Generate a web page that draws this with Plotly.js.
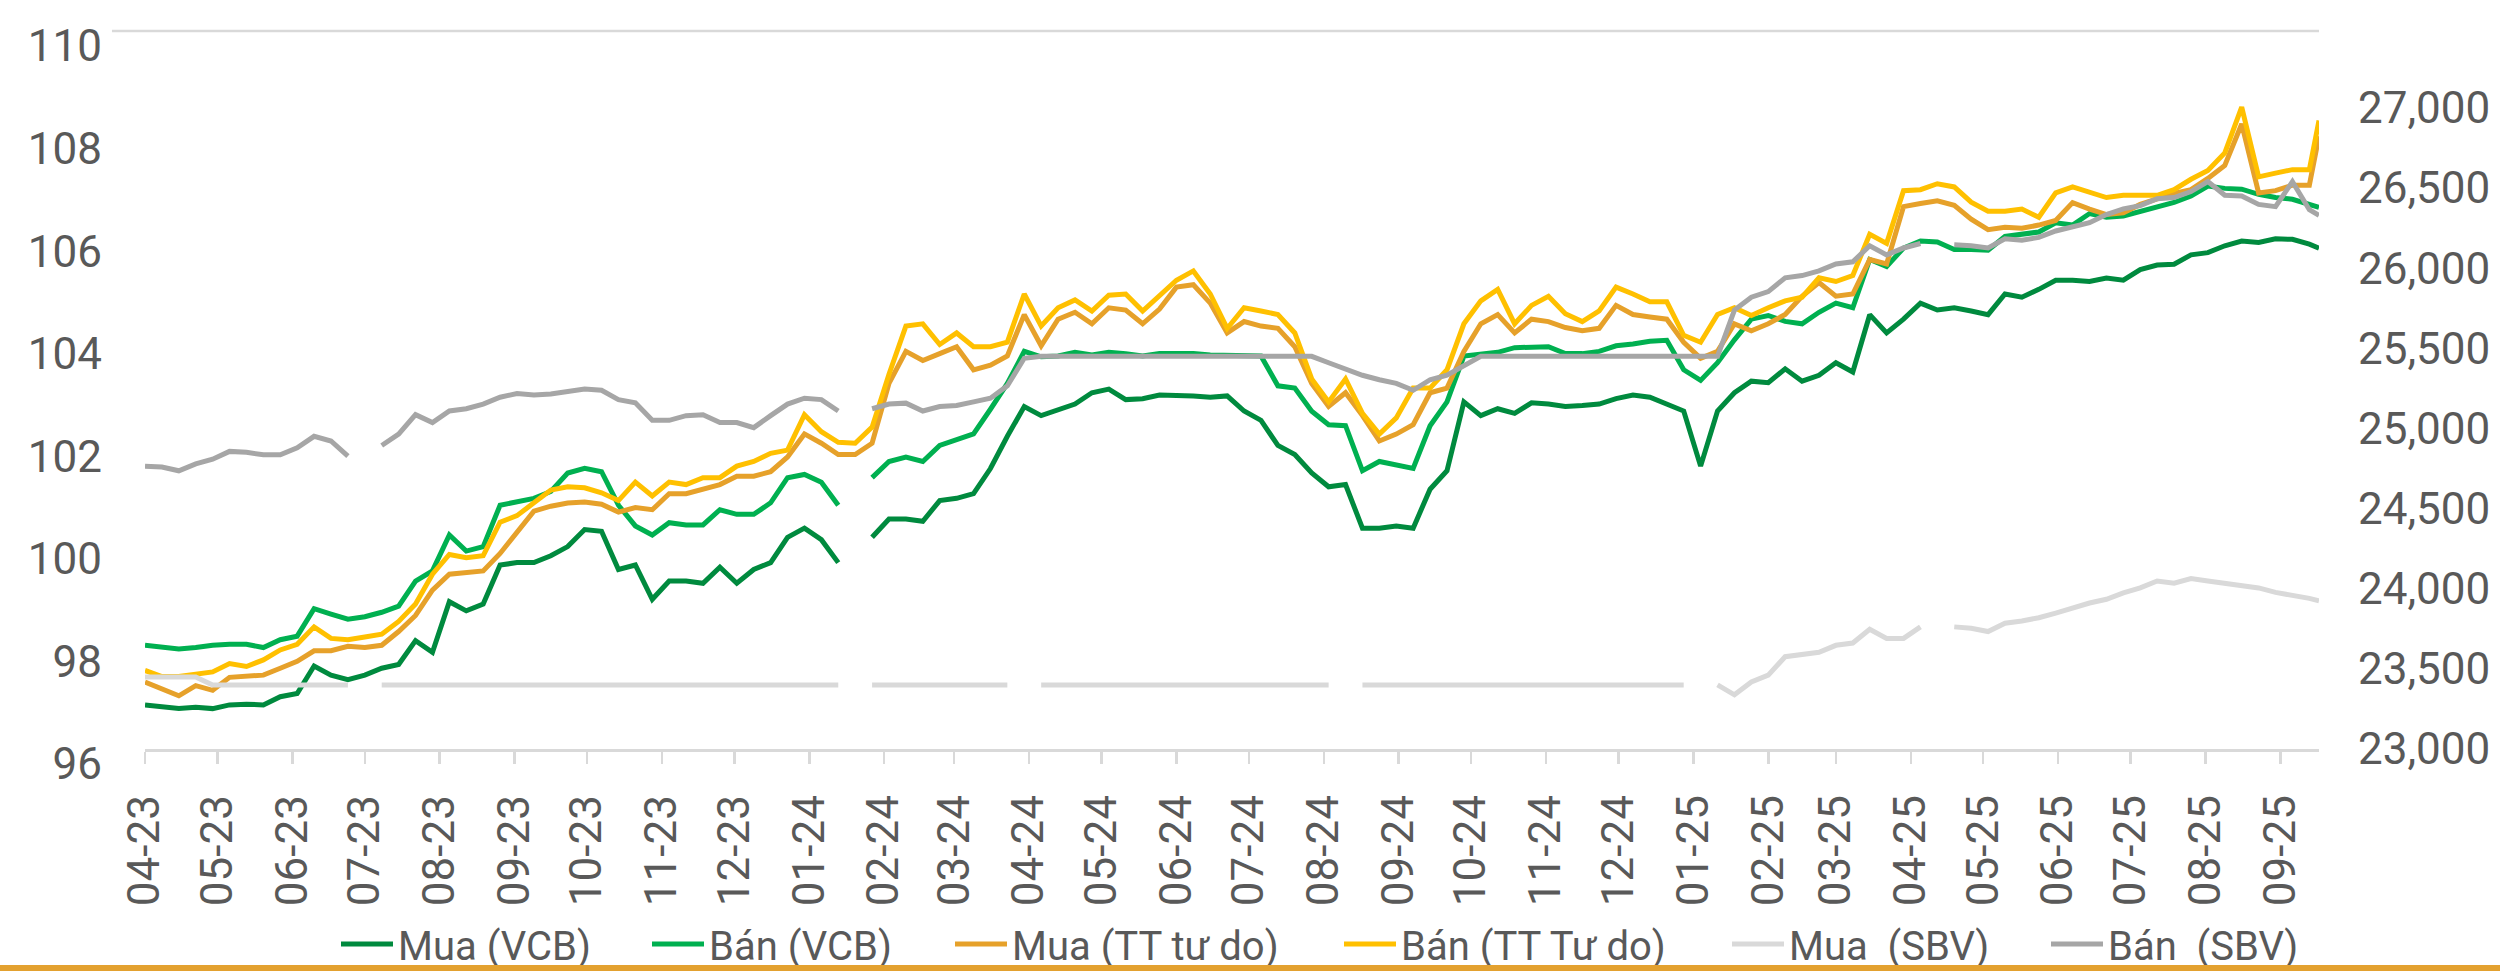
<!DOCTYPE html>
<html><head><meta charset="utf-8">
<script src="https://cdn.plot.ly/plotly-3.0.1.min.js"></script>
<style>
html,body{margin:0;padding:0;background:#fff;overflow:hidden}
#chart{width:2500px;height:971px}
#bar{position:absolute;left:0;top:965px;width:2500px;height:6px;background:#E3A12F;z-index:10}
</style>
</head><body><div id="chart"></div><div id="bar"></div>
<script>
const dates = ["2023-04-03","2023-04-10","2023-04-17","2023-04-24","2023-05-01","2023-05-08","2023-05-15","2023-05-22","2023-05-29","2023-06-05",
"2023-06-12","2023-06-19","2023-06-26","2023-07-03","2023-07-10","2023-07-17","2023-07-24","2023-07-31","2023-08-07","2023-08-14",
"2023-08-21","2023-08-28","2023-09-04","2023-09-11","2023-09-18","2023-09-25","2023-10-02","2023-10-09","2023-10-16","2023-10-23",
"2023-10-30","2023-11-06","2023-11-13","2023-11-20","2023-11-27","2023-12-04","2023-12-11","2023-12-18","2023-12-25","2024-01-01",
"2024-01-08","2024-01-15","2024-01-22","2024-01-29","2024-02-05","2024-02-12","2024-02-19","2024-02-26","2024-03-04","2024-03-11",
"2024-03-18","2024-03-25","2024-04-01","2024-04-08","2024-04-15","2024-04-22","2024-04-29","2024-05-06","2024-05-13","2024-05-20",
"2024-05-27","2024-06-03","2024-06-10","2024-06-17","2024-06-24","2024-07-01","2024-07-08","2024-07-15","2024-07-22","2024-07-29",
"2024-08-05","2024-08-12","2024-08-19","2024-08-26","2024-09-02","2024-09-09","2024-09-16","2024-09-23","2024-09-30","2024-10-07",
"2024-10-14","2024-10-21","2024-10-28","2024-11-04","2024-11-11","2024-11-18","2024-11-25","2024-12-02","2024-12-09","2024-12-16",
"2024-12-23","2024-12-30","2025-01-06","2025-01-13","2025-01-20","2025-01-27","2025-02-03","2025-02-10","2025-02-17","2025-02-24",
"2025-03-03","2025-03-10","2025-03-17","2025-03-24","2025-03-31","2025-04-07","2025-04-14","2025-04-21","2025-04-28","2025-05-05",
"2025-05-12","2025-05-19","2025-05-26","2025-06-02","2025-06-09","2025-06-16","2025-06-23","2025-06-30","2025-07-07","2025-07-14",
"2025-07-21","2025-07-28","2025-08-04","2025-08-11","2025-08-18","2025-08-25","2025-09-01","2025-09-08","2025-09-15","2025-09-19"];

const muaVCB = [23275,23260,23252,23260,23252,23275,23280,23275,23326,23346,
23518,23461,23432,23461,23504,23527,23676,23604,23919,23862,
23905,24148,24163,24163,24206,24263,24369,24358,24120,24148,
23934,24048,24048,24034,24134,24034,24120,24163,24321,24378,
24306,24163,null,24321,24435,24435,24421,24550,24564,24593,
24750,24951,25137,25080,25114,25152,25223,25246,25180,25186,
25209,25209,25203,25195,25203,25109,25051,24894,24837,24722,
24636,24650,24378,24378,24392,24378,24621,24736,25166,25080,
25123,25094,25160,25152,25137,25143,25152,25186,25209,25195,
25152,25109,24765,25109,25223,25295,25286,25372,25295,25332,
25410,25352,25710,25596,25682,25782,25739,25753,25733,25710,
25839,25819,25868,25925,25925,25917,25939,25925,25991,26020,
26025,26083,26097,26140,26169,26160,26183,26180,26150,26125];

const banVCB = [23647,23633,23624,23633,23647,23653,23653,23633,23682,23704,
23876,23842,23810,23825,23853,23891,24048,24111,24335,24235,
24263,24521,24544,24564,24607,24722,24751,24730,24521,24392,
24335,24412,24398,24398,24493,24464,24464,24536,24693,24713,
24665,24521,null,24693,24794,24822,24794,24894,24928,24966,
25120,25281,25481,25447,25452,25475,25458,25475,25467,25452,
25467,25467,25467,25458,25458,25452,25452,25266,25252,25108,
25023,25017,24736,24794,24771,24751,25017,25166,25452,25467,
25475,25504,25510,25510,25467,25467,25481,25516,25527,25544,
25550,25366,25300,25410,25553,25682,25705,25668,25653,25725,
25782,25753,26054,26011,26126,26169,26163,26117,26117,26112,
26198,26212,26226,26283,26269,26341,26318,26326,26355,26384,
26410,26450,26513,26498,26493,26461,26441,26430,26400,26380];

const muaTT = [23418,23375,23332,23395,23366,23447,23453,23461,23504,23547,
23613,23613,23641,23633,23647,23733,23833,23991,24091,24100,
24111,24220,24349,24484,24515,24535,24541,24527,24478,24507,
24493,24593,24593,24621,24650,24702,24702,24730,24822,24966,
24908,24837,24837,24908,25281,25481,25424,25467,25510,25366,
25395,25452,25710,25516,25682,25725,25653,25753,25739,25653,
25745,25882,25897,25782,25596,25667,25639,25625,25510,25281,
25137,25223,25080,24922,24965,25023,25223,25252,25481,25653,
25710,25596,25682,25667,25630,25610,25625,25768,25711,25696,
25682,25538,25438,25481,25653,25610,25653,25711,25825,25911,
25825,25839,26054,26026,26384,26404,26421,26392,26306,26240,
26255,26249,26269,26298,26409,26369,26335,26346,26398,26432,
26467,26490,26560,26641,26900,26470,26484,26518,26518,26824];

const banTT = [23490,23452,23452,23467,23481,23533,23515,23556,23618,23653,
23762,23690,23682,23699,23716,23796,23905,24091,24214,24194,
24206,24415,24456,24536,24616,24636,24630,24599,24550,24665,
24579,24665,24650,24693,24693,24765,24794,24845,24865,25086,
24980,24914,24908,25008,25338,25639,25653,25524,25596,25510,
25510,25539,25839,25639,25753,25802,25733,25831,25839,25733,
25825,25925,25983,25839,25624,25753,25733,25711,25596,25309,
25166,25309,25094,24965,25066,25252,25252,25366,25653,25796,
25868,25653,25768,25825,25716,25667,25733,25882,25839,25790,
25790,25581,25538,25711,25753,25705,25753,25796,25819,25940,
25917,25954,26212,26155,26484,26490,26527,26507,26412,26355,
26355,26369,26318,26470,26507,26478,26441,26455,26455,26455,
26490,26555,26610,26719,27005,26570,26593,26615,26615,26922];

const muaSBV = [23450,23450,23450,23450,23400,23400,23400,23400,23400,23400,
23400,23400,23400,null,23400,23400,23400,23400,23400,23400,
23400,23400,23400,23400,23400,23400,23400,23400,23400,23400,
23400,23400,23400,23400,23400,23400,23400,23400,23400,23400,
23400,23400,null,23400,23400,23400,23400,23400,23400,23400,
23400,23400,null,23400,23400,23400,23400,23400,23400,23400,
23400,23400,23400,23400,23400,23400,23400,23400,23400,23400,
23400,null,23400,23400,23400,23400,23400,23400,23400,23400,
23400,23400,23400,23400,23400,23400,23400,23400,23400,23400,
23400,23400,null,23400,23338,23418,23461,23576,23590,23604,
23647,23661,23747,23690,23690,23762,null,23762,23753,23733,
23785,23799,23819,23848,23882,23911,23934,23974,24005,24048,
24034,24063,24048,24034,24020,24005,23977,23960,23940,23925];

const banSBV = [24765,24759,24736,24779,24808,24857,24851,24836,24836,24880,
24951,24922,24828,null,24894,24965,25086,25037,25109,25123,
25152,25195,25218,25209,25215,25232,25246,25238,25180,25160,
25051,25051,25080,25086,25037,25037,25005,25080,25152,25189,
25180,25109,null,25123,25152,25158,25109,25137,25143,25166,
25189,25266,25438,25450,25450,25450,25450,25450,25450,25450,
25450,25450,25450,25450,25450,25450,25450,25450,25450,25450,
25410,25372,25332,25304,25281,25238,25304,25332,25395,25450,
25450,25450,25450,25450,25450,25450,25450,25450,25450,25450,
25450,25450,25450,25450,25739,25819,25854,25940,25954,25983,
26026,26040,26140,26083,26126,26154,null,26146,26140,26126,
26183,26175,26192,26232,26261,26284,26335,26370,26390,26433,
26441,26478,26541,26455,26450,26398,26384,26540,26365,26330];

const tickDates = ["2023-04-03","2023-05-03","2023-06-03","2023-07-03","2023-08-03","2023-09-03","2023-10-03","2023-11-03","2023-12-03",
"2024-01-03","2024-02-03","2024-03-03","2024-04-03","2024-05-03","2024-06-03","2024-07-03","2024-08-03","2024-09-03","2024-10-03","2024-11-03","2024-12-03",
"2025-01-03","2025-02-03","2025-03-03","2025-04-03","2025-05-03","2025-06-03","2025-07-03","2025-08-03","2025-09-03"];
const tickLabels = ["04-23","05-23","06-23","07-23","08-23","09-23","10-23","11-23","12-23",
"01-24","02-24","03-24","04-24","05-24","06-24","07-24","08-24","09-24","10-24","11-24","12-24",
"01-25","02-25","03-25","04-25","05-25","06-25","07-25","08-25","09-25"];
const leftTicks = [96,98,100,102,104,106,108,110];

const seriesNames = ["Mua (VCB)","Bán (VCB)","Mua (TT tư do)","Bán (TT Tư do)","Mua  (SBV)","Bán  (SBV)"];
const seriesValues = [muaVCB, banVCB, muaTT, banTT, muaSBV, banSBV];
const seriesColors = ["#008A3E","#00B050","#E6A12A","#FFC000","#D9D9D9","#A6A6A6"];
const legendX = [336, 647, 950, 1339, 1727, 2046];

const FONT = "Roboto, 'Liberation Sans', sans-serif";
const TXT = "#595959";

// empty trace that only anchors the left (primary) y axis so it is drawn
const traces = [{
  type: "scatter", mode: "lines", x: [], y: [], yaxis: "y",
  showlegend: false, hoverinfo: "skip"
}].concat(seriesNames.map((n, i) => ({
  type: "scatter", mode: "lines", name: n,
  x: dates, y: seriesValues[i], yaxis: "y2",
  connectgaps: false,
  line: {color: seriesColors[i], width: 5},
  legend: i === 0 ? "legend" : "legend" + (i + 1),
  hoverinfo: "skip"
})));

const layout = {
  width: 2500, height: 971,
  margin: {l: 145, r: 181, t: 31, b: 222},
  paper_bgcolor: "#ffffff", plot_bgcolor: "#ffffff",
  font: {family: FONT, color: TXT, size: 44},
  showlegend: true,
  xaxis: {
    type: "date", range: ["2023-04-03", "2025-09-19"],
    tickmode: "array", tickvals: tickDates, ticktext: tickLabels,
    tickangle: -90, tickfont: {size: 44, color: TXT},
    showgrid: false, zeroline: false,
    showline: true, linecolor: "#D9D9D9", linewidth: 2.5,
    ticks: "outside", ticklen: 12, tickwidth: 2.5, tickcolor: "#D9D9D9",
    ticklabelstandoff: 14
  },
  yaxis: {
    visible: true, type: "linear", autorange: false,
    range: [96, 110], tickmode: "array", tickvals: leftTicks,
    showticklabels: true,
    showgrid: false, zeroline: false, showline: false, ticks: "",
    tickfont: {size: 44, color: TXT},
    ticklabelstandoff: 42, ticklabelshift: 15
  },
  yaxis2: {
    overlaying: "y", side: "right",
    range: [23000, 27480], dtick: 500, tick0: 23000, tickformat: ",d",
    showgrid: false, zeroline: false, showline: false, ticks: "",
    tickfont: {size: 44, color: TXT},
    ticklabelstandoff: 38
  },
  shapes: [{
    type: "line", xref: "paper", yref: "paper",
    x0: -0.0152, x1: 1, y0: 1, y1: 1,
    line: {color: "#D9D9D9", width: 2.5}, layer: "below"
  }]
};
seriesNames.forEach((n, i) => {
  const key = i === 0 ? "legend" : "legend" + (i + 1);
  layout[key] = {
    orientation: "h", xref: "container", yref: "container",
    x: legendX[i] / 2500, y: 27 / 971, xanchor: "left", yanchor: "middle",
    font: {family: FONT, size: 40, color: TXT},
    bgcolor: "rgba(0,0,0,0)", borderwidth: 0, itemwidth: 52
  };
});

Plotly.newPlot("chart", traces, layout, {displayModeBar: false, staticPlot: true});
</script>
</body></html>
